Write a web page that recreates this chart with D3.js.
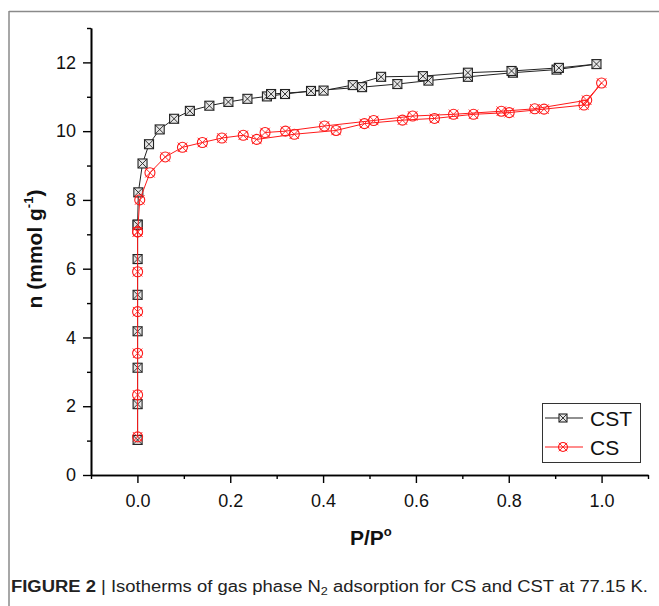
<!DOCTYPE html>
<html>
<head>
<meta charset="utf-8">
<script src="https://cdn.jsdelivr.net/npm/d3@7"></script>
<style>
  html, body { margin: 0; padding: 0; background: #fff; }
  svg { display: block; }
  text { font-family: "Liberation Sans", Arial, sans-serif; }
</style>
</head>
<body>
<svg id="chart" width="659" height="606"></svg>
<script>
// ---- data ----
// CST: adsorption branch followed by desorption branch
const cstP = [0.0004, 0.0004, 0.0004, 0.0004, 0.0004, 0.0004, 0.0004, 0.0004, 0.002, 0.011, 0.025, 0.048, 0.079, 0.113, 0.155, 0.196, 0.237, 0.279, 0.318, 0.374, 0.484, 0.560, 0.627, 0.712, 0.809, 0.903, 0.989,
              0.908, 0.806, 0.712, 0.615, 0.525, 0.464, 0.401, 0.288];
const cstN = [1.02, 2.06, 3.12, 4.18, 5.24, 6.28, 7.28, 7.28, 8.22, 9.06, 9.62, 10.05, 10.36, 10.59, 10.74, 10.85, 10.94, 11.01, 11.08, 11.17, 11.28, 11.37, 11.47, 11.58, 11.70, 11.79, 11.95,
              11.84, 11.75, 11.70, 11.60, 11.58, 11.34, 11.18, 11.08];
// CS: adsorption branch followed by desorption branch
const csP = [0.0004, 0.0004, 0.0004, 0.0004, 0.0004, 0.0004, 0.0004, 0.005, 0.027, 0.060, 0.097, 0.140, 0.182, 0.228, 0.257, 0.338, 0.428, 0.489, 0.571, 0.640, 0.724, 0.801, 0.876, 0.962, 1.000,
             0.968, 0.856, 0.784, 0.681, 0.593, 0.509, 0.403, 0.319, 0.275];
const csN = [1.11, 2.33, 3.54, 4.75, 5.91, 7.07, 7.07, 8.00, 8.79, 9.25, 9.53, 9.67, 9.80, 9.88, 9.76, 9.91, 10.02, 10.22, 10.32, 10.37, 10.49, 10.54, 10.64, 10.76, 11.40,
             10.90, 10.65, 10.58, 10.49, 10.44, 10.31, 10.15, 10.00, 9.96];

const xMajor = [0.0, 0.2, 0.4, 0.6, 0.8, 1.0];
const xMinor = [-0.1, 0.1, 0.3, 0.5, 0.7, 0.9, 1.1];
const yMajor = [0, 2, 4, 6, 8, 10, 12];
const yMinor = [1, 3, 5, 7, 9, 11, 13];
const seriesNames = ["CST", "CS"];

// ---- layout ----
const svg = d3.select("#chart");
const x = d3.scaleLinear().domain([-0.1, 1.1]).range([91, 648]);
const y = d3.scaleLinear().domain([0, 13]).range([475, 28]);

// outer frame (top and left border lines)
svg.append("line").attr("x1", 9).attr("x2", 659).attr("y1", 11.5).attr("y2", 11.5)
  .attr("stroke", "#8a8a8a").attr("stroke-width", 1.5);
svg.append("line").attr("x1", 9).attr("x2", 9).attr("y1", 11).attr("y2", 606)
  .attr("stroke", "#8a8a8a").attr("stroke-width", 1.5);

// axes
function styleAxis(g) {
  g.selectAll("path.domain").attr("stroke", "#000").attr("stroke-width", 1.6);
  g.selectAll(".tick line").attr("stroke", "#000").attr("stroke-width", 1.4);
  g.selectAll(".tick text").attr("font-size", 18).attr("fill", "#111")
    .attr("font-family", "'Liberation Sans', Arial, sans-serif");
}
const gxMinor = svg.append("g").attr("transform", `translate(0,${y(0)})`)
  .call(d3.axisBottom(x).tickValues(xMinor).tickSize(4).tickSizeOuter(0).tickFormat(""));
styleAxis(gxMinor);
const gx = svg.append("g").attr("transform", `translate(0,${y(0)})`)
  .call(d3.axisBottom(x).tickValues(xMajor).tickSize(8).tickSizeOuter(0).tickPadding(11).tickFormat(d3.format(".1f")));
styleAxis(gx);

const gyMinor = svg.append("g").attr("transform", `translate(${x(-0.1)},0)`)
  .call(d3.axisLeft(y).tickValues(yMinor).tickSize(4).tickSizeOuter(0).tickFormat(""));
styleAxis(gyMinor);
const gy = svg.append("g").attr("transform", `translate(${x(-0.1)},0)`)
  .call(d3.axisLeft(y).tickValues(yMajor).tickSize(8).tickSizeOuter(0).tickPadding(7).tickFormat(d3.format("d")));
styleAxis(gy);

// axis titles
const xt = svg.append("text").attr("x", 350).attr("y", 545)
  .attr("font-size", 21).attr("font-weight", "bold").attr("fill", "#111");
xt.append("tspan").text("P/P");
xt.append("tspan").attr("font-size", 13).attr("dy", -9).text("o");

const yt = svg.append("text").attr("transform", "translate(42,249) rotate(-90)")
  .attr("text-anchor", "middle").attr("font-size", 21).attr("font-weight", "bold").attr("fill", "#111");
yt.append("tspan").text("n (mmol g");
yt.append("tspan").attr("font-size", 13).attr("dy", -9).text("-1");
yt.append("tspan").attr("dy", 9).text(")");

// markers
const cstColor = "#222";
const csColor = "#ff1a1a";
function squareX(g, s) {
  g.append("rect").attr("x", -s).attr("y", -s).attr("width", 2 * s).attr("height", 2 * s)
    .attr("fill", "#e6e6e6").attr("stroke", cstColor).attr("stroke-width", 1.1);
  g.append("path").attr("d", `M${-s},${-s}L${s},${s}M${-s},${s}L${s},${-s}`)
    .attr("stroke", cstColor).attr("stroke-width", 0.9).attr("fill", "none");
}
function circleX(g, r) {
  g.append("circle").attr("r", r).attr("fill", "none").attr("stroke", csColor).attr("stroke-width", 1.1);
  const k = r * 0.95;
  g.append("path").attr("d", `M${-k},${-k}L${k},${k}M${-k},${k}L${k},${-k}`)
    .attr("stroke", csColor).attr("stroke-width", 0.9).attr("fill", "none");
}

const cstData = cstP.map((p, i) => ({ p, n: cstN[i] }));
const csData = csP.map((p, i) => ({ p, n: csN[i] }));
const line = d3.line().x(d => x(d.p)).y(d => y(d.n));

// CST series
svg.append("path").datum(cstData).attr("d", line)
  .attr("fill", "none").attr("stroke", cstColor).attr("stroke-width", 1);
svg.append("g").selectAll("g").data(cstData).join("g")
  .attr("transform", d => `translate(${x(d.p)},${y(d.n)})`)
  .each(function () { squareX(d3.select(this), 4.5); });

// CS series
svg.append("path").datum(csData).attr("d", line)
  .attr("fill", "none").attr("stroke", csColor).attr("stroke-width", 1);
svg.append("g").selectAll("g").data(csData).join("g")
  .attr("transform", d => `translate(${x(d.p)},${y(d.n)})`)
  .each(function () { circleX(d3.select(this), 5); });

// legend
const lg = svg.append("g");
lg.append("rect").attr("x", 542.5).attr("y", 403.5).attr("width", 98).attr("height", 59)
  .attr("fill", "#fff").attr("stroke", "#333").attr("stroke-width", 1);
const legendRows = [
  { name: seriesNames[0], color: cstColor, draw: g => squareX(g, 4), yy: 418 },
  { name: seriesNames[1], color: csColor, draw: g => circleX(g, 4.5), yy: 447 }
];
legendRows.forEach(r => {
  lg.append("line").attr("x1", 545).attr("x2", 583).attr("y1", r.yy).attr("y2", r.yy)
    .attr("stroke", r.color).attr("stroke-width", 1.2);
  const m = lg.append("g").attr("transform", `translate(563,${r.yy})`);
  r.draw(m);
  lg.append("text").attr("x", 590).attr("y", r.yy + 7.5).attr("font-size", 21)
    .attr("fill", "#111").text(r.name);
});

// caption
const cap = svg.append("text").attr("x", 11).attr("y", 592).attr("font-size", 16)
  .attr("fill", "#222")
  .attr("font-family", "'Liberation Sans Narrow', 'DejaVu Sans Condensed', 'Liberation Sans', sans-serif")
  .attr("textLength", 637).attr("lengthAdjust", "spacingAndGlyphs");
cap.append("tspan").attr("font-weight", "bold").text("FIGURE 2");
cap.append("tspan").text(" | Isotherms of gas phase N");
cap.append("tspan").attr("font-size", 11).attr("dy", 3).text("2");
cap.append("tspan").attr("dy", -3).text(" adsorption for CS and CST at 77.15 K.");
</script>
</body>
</html>
